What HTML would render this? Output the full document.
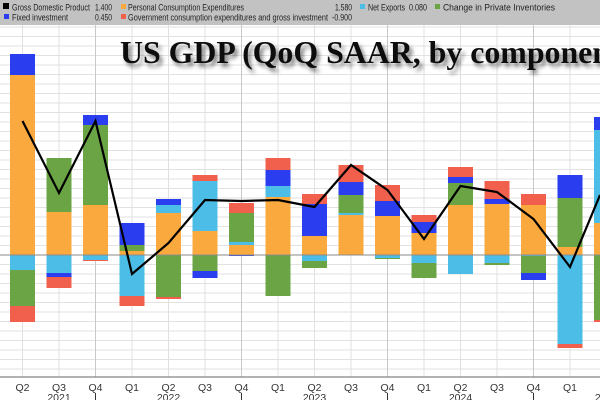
<!DOCTYPE html>
<html><head><meta charset="utf-8"><style>
html,body{margin:0;padding:0;background:#fff;}
svg{display:block;font-family:"Liberation Sans",sans-serif;}
</style></head><body>
<svg id="s" width="600" height="400" viewBox="0 0 600 400" xmlns="http://www.w3.org/2000/svg">
<defs><filter id="sh" x="-5%" y="-20%" width="110%" height="160%"><feGaussianBlur in="SourceAlpha" stdDeviation="2"/><feOffset dx="3" dy="4"/><feComponentTransfer><feFuncA type="linear" slope="0.5"/></feComponentTransfer><feMerge><feMergeNode/><feMergeNode in="SourceGraphic"/></feMerge></filter></defs>
<rect x="0" y="0" width="600" height="400" fill="#fff"/>
<g id="grid"></g>
<g id="bars"></g>
<line x1="0" y1="255" x2="600" y2="255" stroke="#8a8a8a" stroke-width="1"/>
<polyline id="gdp" fill="none" stroke="#000" stroke-width="2.2" stroke-linejoin="miter"/>
<line x1="0" y1="377" x2="600" y2="377" stroke="#666" stroke-width="1"/>
<g id="xl" font-size="10.5" fill="#333" text-anchor="middle"></g>
<text x="120" y="63" font-family="'Liberation Serif',serif" font-weight="bold" font-size="32" fill="#111" filter="url(#sh)" textLength="490" lengthAdjust="spacingAndGlyphs">US GDP (QoQ SAAR, by componen</text>
<rect x="0" y="0" width="600" height="25" fill="#c2c2c2"/>
<g font-size="9.6" fill="#222">
<rect x="3" y="3" width="6" height="6" fill="#000"/><text x="12" y="10.5" textLength="78" lengthAdjust="spacingAndGlyphs">Gross Domestic Product</text><text x="95" y="10.5" textLength="17" lengthAdjust="spacingAndGlyphs">1.400</text>
<rect x="121" y="4" width="5" height="5" fill="#f9a93e"/><text x="128" y="10.5" textLength="116" lengthAdjust="spacingAndGlyphs">Personal Consumption Expenditures</text><text x="335" y="10.5" textLength="17" lengthAdjust="spacingAndGlyphs">1.580</text>
<rect x="360" y="4" width="5" height="5" fill="#4cbde6"/><text x="368" y="10.5" textLength="37" lengthAdjust="spacingAndGlyphs">Net Exports</text><text x="409" y="10.5" textLength="18" lengthAdjust="spacingAndGlyphs">0.080</text>
<rect x="435" y="4" width="5" height="5" fill="#6aa444"/><text x="443" y="10.5" textLength="112" lengthAdjust="spacingAndGlyphs">Change in Private Inventories</text>
<rect x="4" y="14" width="5" height="5" fill="#2a3ef0"/><text x="12" y="20.5" textLength="56" lengthAdjust="spacingAndGlyphs">Fixed investment</text><text x="95" y="20.5" textLength="17" lengthAdjust="spacingAndGlyphs">0.450</text>
<rect x="121" y="14" width="5" height="5" fill="#f0604c"/><text x="128" y="20.5" textLength="200" lengthAdjust="spacingAndGlyphs">Government consumption expenditures and gross investment</text><text x="332" y="20.5" textLength="20" lengthAdjust="spacingAndGlyphs">-0.900</text>
</g>
</svg>
<script>
const NS="http://www.w3.org/2000/svg";
function el(p,t,a){const e=document.createElementNS(NS,t);for(const k in a)e.setAttribute(k,a[k]);p.appendChild(e);return e;}
const g=document.getElementById('grid'),b=document.getElementById('bars'),xl=document.getElementById('xl');
for(let y=255-228;y<377;y+=9.5){el(g,'line',{x1:0,x2:600,y1:y,y2:y,stroke:'#e2e2e2','stroke-width':1});}
const cx=i=>22.5+i*36.5;
for(let i=0;i<17;i++){const x=cx(i);el(g,'line',{x1:x,x2:x,y1:25,y2:377,stroke:(i%4==2)?'#c8c8c8':'#e0e0e0','stroke-width':1});}
const C={o:'#f9a93e',g:'#6aa444',b:'#2a3ef0',c:'#4cbde6',r:'#f0604c'};
const D=[
[['o',255,75],['b',75,54],['c',255,270],['g',270,306],['r',306,322]],
[['o',255,212],['g',212,158],['c',255,273],['b',273,277],['r',277,288]],
[['o',255,205],['g',205,125],['b',125,115],['c',255,260],['r',260,261]],
[['o',255,251],['g',251,245],['b',245,223],['c',255,296],['r',296,306]],
[['o',255,213],['c',213,205],['b',205,199],['g',255,297],['r',297,299]],
[['o',255,231],['c',231,181],['r',181,175],['g',255,271],['b',271,278]],
[['o',255,245],['c',245,242],['g',242,213],['r',213,203],['b',255,256]],
[['o',255,197],['c',197,186],['b',186,170],['r',170,158],['g',255,296]],
[['o',255,236],['b',236,204],['r',204,194],['c',255,261],['g',261,268]],
[['o',255,215],['c',215,213],['g',213,195],['b',195,182],['r',182,165]],
[['o',255,216],['b',216,201],['r',201,185],['c',255,258],['g',258,259]],
[['o',255,233],['b',233,222],['r',222,215],['c',255,263],['g',263,278]],
[['o',255,205],['g',205,183],['b',183,177],['r',177,167],['c',255,274]],
[['o',255,204],['b',204,199],['r',199,181],['c',255,263],['g',263,265]],
[['o',255,205],['r',205,194],['c',255,256],['g',256,273],['b',273,280]],
[['o',255,247],['g',247,198],['b',198,175],['c',255,344],['r',344,348]],
[['o',255,223],['c',223,130],['b',130,117],['g',255,320],['r',320,322]]
];
D.forEach((segs,i)=>{const x=cx(i)-12.5;segs.forEach(s=>{const y=Math.min(s[1],s[2]),h=Math.abs(s[1]-s[2]);el(b,'rect',{x:x,y:y,width:25,height:h,fill:C[s[0]]});});});
const L=[121,193,121,274,243,200,201,200,207,165,190,239,186,192,219,267,195];
document.getElementById('gdp').setAttribute('points',L.map((y,i)=>(i==16?600:cx(i))+','+y).join(' '));
const Q=['Q2','Q3','Q4','Q1'];
for(let i=0;i<17;i++){const x=cx(i);const t=el(xl,'text',{x:x,y:391});t.textContent=Q[i%4];
 if(i%4==2){el(xl,'line',{x1:x,x2:x,y1:393,y2:400,stroke:'#333','stroke-width':1});}}
[[1,'2021'],[4,'2022'],[8,'2023'],[12,'2024'],[16,'2025']].forEach(a=>{const t=el(xl,'text',{x:cx(a[0]),y:401});t.textContent=a[1];});
</script>
</body></html>
